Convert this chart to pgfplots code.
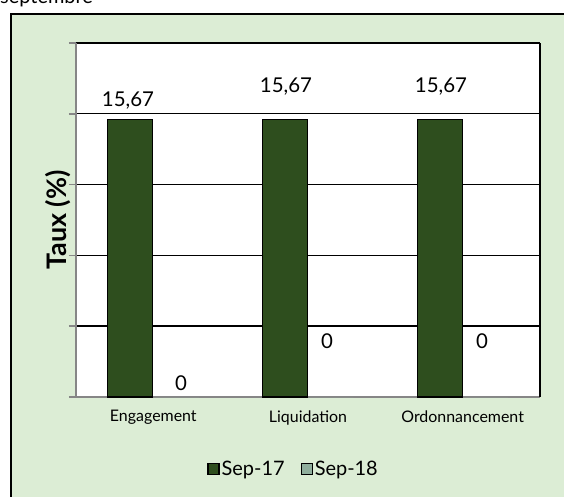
\documentclass[border=0pt]{standalone}
\usepackage{fontspec}
\setmainfont{Lato}
\usepackage{pgfplots}
\pgfplotsset{compat=1.18}
\definecolor{bgGreen}{RGB}{220,237,213}
\definecolor{darkGreen}{RGB}{46,78,30}
\definecolor{greyGreen}{RGB}{143,174,156}
\definecolor{axisGrey}{RGB}{134,134,134}
\begin{document}
\begin{tikzpicture}
\useasboundingbox (0,0) rectangle (564bp,497bp);
\clip (0,0) rectangle (564bp,497bp);
\fill[white] (0,0) rectangle (564bp,497bp);
\node[anchor=base west,inner sep=0pt,font=\fontsize{20}{24}\selectfont] at (0bp,493bp) {septembre};
\draw[black,line width=1.5bp,fill=bgGreen] (11bp,483bp) rectangle (580bp,-10bp);
\begin{axis}[
  at={(76bp,100bp)},anchor=south west,
  scale only axis,width=464bp,height=354bp,
  xmin=-0.5,xmax=2.5,ymin=0,ymax=20,
  axis background/.style={fill=white},
  axis x line*=bottom,axis y line*=left,
  axis line style={axisGrey,line width=1.6bp,-},
  xtick={0,1,2},
  xticklabels={Engagement,Liquidation,Ordonnancement},
  x tick label style={font=\fontsize{16}{19}\selectfont,yshift=-3bp},
  major x tick style={draw=none},
  extra x ticks={-0.5,0.5,1.5,2.5},
  extra x tick labels={},
  extra x tick style={tick style={axisGrey,line width=1.6bp},major tick length=7bp,tick align=outside,grid=none},
  ytick={0,4,...,20},yticklabels={},
  y tick style={axisGrey,line width=1.6bp},
  major tick length=7bp,tick align=outside,
  ymajorgrids,grid style={black,line width=1.4bp},
  legend style={at={(0.469,-0.203)},anchor=center,draw=none,fill=none,
    legend columns=2,font=\fontsize{20}{23}\selectfont,
    /tikz/every even column/.append style={column sep=14bp}},
  legend image code/.code={\draw[#1,draw=black,line width=1.2bp] (0bp,-6bp) rectangle (11bp,5bp);},
  clip=false,
]
\addplot[ybar,bar width=45bp,bar shift=-23bp,fill=darkGreen,draw=black,line width=1.2bp]
  coordinates {(0,15.67) (1,15.67) (2,15.67)};
\addlegendentry{Sep-17}
\addplot[ybar,bar width=45bp,bar shift=23bp,fill=greyGreen,draw=none]
  coordinates {(0,0) (1,0) (2,0)};
\addlegendentry{Sep-18}
\draw[black,line width=1.4bp] (axis cs:2.5,0) -- (axis cs:2.5,20);
\end{axis}
\begin{scope}[every node/.style={font=\fontsize{20.5}{24}\selectfont,inner sep=0pt}]
\node at (128bp,396bp) {15,67};
\node at (286bp,410bp) {15,67};
\node at (441bp,410bp) {15,67};
\node at (181bp,114bp) {0};
\node at (327bp,156bp) {0};
\node at (482bp,156bp) {0};
\end{scope}
\node[rotate=90,font=\bfseries\fontsize{27}{31}\selectfont] at (58bp,277bp) {Taux (\%)};
\end{tikzpicture}
\end{document}
